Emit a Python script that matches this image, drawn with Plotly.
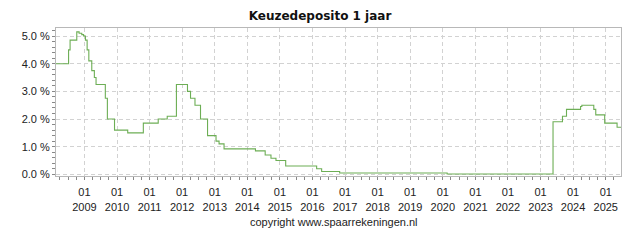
import plotly.graph_objects as go

# Step start dates and rates (%) for "Keuzedeposito 1 jaar"
dates = [
    "2008-02-15", "2008-07-07", "2008-07-24", "2008-10-07", "2008-11-02",
    "2008-12-02", "2008-12-22", "2009-01-12", "2009-01-31", "2009-02-19",
    "2009-03-24", "2009-04-22", "2009-05-11", "2009-08-23", "2009-09-15",
    "2009-12-04", "2010-05-01", "2010-10-23", "2011-04-08", "2011-07-18",
    "2011-10-29", "2012-03-01", "2012-04-04", "2012-05-24", "2012-07-25",
    "2012-10-12", "2013-01-15", "2013-02-18", "2013-04-15", "2014-04-02",
    "2014-07-20", "2014-09-23", "2014-11-18", "2015-03-07", "2016-02-17",
    "2016-04-13", "2016-11-01", "2020-02-19", "2023-05-21", "2023-09-04",
    "2023-10-19", "2024-03-25", "2024-04-08", "2024-08-20", "2024-09-11",
    "2024-12-20", "2025-05-08", "2025-06-21",
]
rates = [
    4.0, 4.5, 4.85, 5.15, 5.1,
    5.05, 5.0, 4.85, 4.5, 4.1,
    3.75, 3.5, 3.25, 2.75, 2.0,
    1.6, 1.5, 1.85, 2.0, 2.1,
    3.25, 3.0, 2.75, 2.5, 2.0,
    1.4, 1.2, 1.1, 0.92, 0.85,
    0.7, 0.58, 0.5, 0.3, 0.2,
    0.1, 0.05, 0.01, 1.9, 2.1,
    2.35, 2.45, 2.5, 2.35, 2.15,
    1.85, 1.7, 1.7,
]

title_text = "Keuzedeposito 1 jaar"
copyright_text = "copyright www.spaarrekeningen.nl"

fig = go.Figure()
fig.add_trace(go.Scatter(
    x=dates, y=rates, mode="lines", line_shape="hv",
    line=dict(color="#6DAE55", width=1.1), hoverinfo="skip", showlegend=False,
))

axis_font = dict(family="Liberation Sans, Arial, sans-serif", size=11, color="#222222")
grid_col = "#d2d2d2"
line_col = "#b8b8b8"

plot_h = 240 - 28 - 64
plot_w = 640 - 56 - 19

fig.update_layout(
    width=640, height=240,
    margin=dict(l=56, r=19, t=28, b=64),
    paper_bgcolor="white", plot_bgcolor="white",
    title=dict(text="<b>" + title_text + "</b>", x=0.5, xref="container", xanchor="center",
               y=1 - 16 / 240, yref="container", yanchor="middle",
               font=dict(family="DejaVu Sans, sans-serif", size=12, color="#111111")),
    annotations=[dict(text=copyright_text, x=(334 - 56) / plot_w, y=(240 - 64 - 222) / plot_h,
                      xref="paper", yref="paper",
                      xanchor="center", yanchor="middle", showarrow=False,
                      font=dict(family="Liberation Sans, Arial, sans-serif", size=11, color="#222222"))],
)

fig.update_xaxes(
    type="date", range=["2008-02-17", "2025-06-21"],
    tick0="2009-01-01", dtick="M12", tickformat="%m<br>%Y",
    ticks="outside", ticklen=3, tickcolor="#888888", ticklabelstandoff=3,
    showgrid=True, gridcolor=grid_col, griddash="4px,3px", gridwidth=1,
    showline=True, linecolor=line_col, linewidth=1, mirror=True,
    tickfont=axis_font, zeroline=False,
    minor=dict(dtick="M3", tick0="2009-01-01", ticks="outside", ticklen=3,
               tickcolor="#888888", showgrid=False),
)
fig.update_yaxes(
    range=[-0.06, 5.29], dtick=1, tick0=0, tickformat=".1f", ticksuffix=" %",
    ticks="outside", ticklen=3, tickcolor="#888888",
    showgrid=True, gridcolor=grid_col, griddash="4px,3px", gridwidth=1,
    showline=True, linecolor=line_col, linewidth=1, mirror=True,
    tickfont=axis_font, zeroline=False,
    minor=dict(dtick=0.2, ticks="outside", ticklen=3, tickcolor="#888888", showgrid=False),
)

fig.write_html("out.html")
